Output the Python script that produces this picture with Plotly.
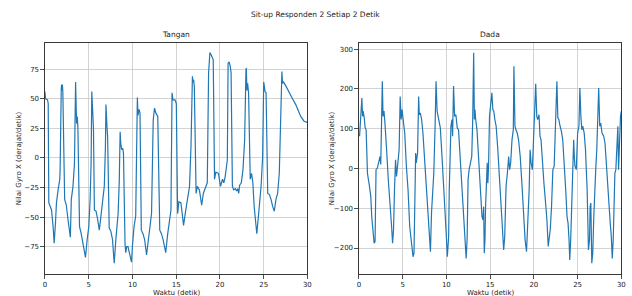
import plotly.graph_objects as go

# ---------------- data ----------------
t_tangan = [0.0, 0.08, 0.3, 0.38, 0.45, 0.57, 0.76, 0.94, 1.06, 1.21, 1.32, 1.51, 1.7, 1.74,
            1.8, 1.87, 1.91, 1.97, 2.0, 2.05, 2.26, 2.45, 2.64, 2.83, 2.91, 3.02, 3.21, 3.38,
            3.51, 3.62, 3.7, 3.77, 3.96, 4.15, 4.34, 4.53, 4.64, 4.83, 5.02, 5.17, 5.28,
            5.36, 5.47, 5.55, 5.66, 5.85, 6.03, 6.22, 6.41, 6.6, 6.79, 6.92, 6.98, 7.1, 7.17,
            7.35, 7.54, 7.73, 7.92, 8.11, 8.37, 8.5, 8.6, 8.67, 8.78, 8.9, 8.98, 9.16, 9.24,
            9.35, 9.5, 9.65, 9.8, 9.9, 10.0, 10.19, 10.38, 10.5, 10.57, 10.64, 10.76, 10.87,
            11.02, 11.21, 11.4, 11.62, 11.81, 12.0, 12.19, 12.38, 12.53, 12.68, 12.9, 13.13,
            13.32, 13.51, 13.81, 14.04, 14.26, 14.41, 14.53, 14.64, 14.87, 15.02, 15.17, 15.32,
            15.55, 15.85, 16.04, 16.3, 16.53, 16.7, 16.86, 16.94, 17.0, 17.08, 17.28, 17.43,
            17.66, 17.92, 18.11, 18.41, 18.56, 18.71, 18.86, 19.01, 19.13, 19.24, 19.39, 19.54,
            19.84, 20.07, 20.3, 20.45, 20.6, 20.7, 20.85, 20.94, 21.06, 21.17, 21.28, 21.43,
            21.58, 21.77, 21.92, 22.04, 22.15, 22.26, 22.45, 22.64, 22.83, 22.98, 23.02, 23.09,
            23.17, 23.28, 23.47, 23.62, 23.77, 23.92, 24.07, 24.22, 24.37, 24.52, 24.71, 24.88,
            25.01, 25.09, 25.16, 25.28, 25.47, 25.66, 25.85, 26.03, 26.22, 26.41, 26.6, 26.79,
            26.97, 27.09, 27.16, 27.28, 27.6, 27.92, 28.3, 28.67, 29.0, 29.24, 29.62, 30.0]
v_tangan = [56, 50, 49, 46, -38, -41, -44, -58, -72, -55, -38, -27, -18, -10,
            55, 58, 62, 57, 62, 56, -35, -40, -52, -66, -67, -35, -24, -5,
            64, 29, 35, 26, -58, -64, -72, -80, -84, -69, -58, -35, -5,
            56, 35, 25, -44, -45, -52, -61, -49, -35, -24, 10, 45, 26, 18,
            -59, -62, -69, -89, -69, -47, -20, 22, 12, 7, 8, 4, -73, -80,
            -75, -75, -80, -87, -88, -75, -58, -49, 43, 51, 36, 41, 38,
            -61, -64, -69, -82, -69, -58, -47, 32, 42, 38, 35, -61,
            -64, -69, -80, -64, -52, -44, 55, 49, 49, 46, -47, -37,
            -38, -57, -47, -35, -24, 10, 69, 64, 66, 60, -30, -24,
            -27, -40, -30, -24, -21, 72, 89, 87, 84, 83, -18, -12,
            -13, -24, -18, -21, -16, -10, -2, 80, 81, 78, 72, -24,
            -27, -26, -28, -26, -30, -23, -21, -10, 15, 74, 76, 57,
            63, 55, -18, -13, -21, -41, -54, -64, -52, -38, -24, 0,
            64, 60, 56, 55, -30, -31, -35, -41, -45, -35, -30, -13,
            43, 73, 63, 64, 60, 55, 50, 45, 40, 35, 31, 30]

t_dada = [0.08, 0.23, 0.34, 0.42, 0.49, 0.61, 0.72, 0.83, 0.98, 1.21, 1.36, 1.47, 1.59, 1.74,
          1.85, 1.96, 2.11, 2.27, 2.42, 2.5, 2.6, 2.68, 2.76, 2.87, 2.98, 3.06, 3.17, 3.36,
          3.55, 3.74, 3.85, 3.96, 4.07, 4.19, 4.3, 4.37, 4.49, 4.6, 4.72, 4.83, 4.94, 5.06,
          5.24, 5.43, 5.62, 5.81, 6.0, 6.19, 6.3, 6.41, 6.49, 6.56, 6.71, 6.83, 6.9, 7.02,
          7.17, 7.32, 7.5, 7.69, 7.88, 7.96, 8.07, 8.18, 8.3, 8.45, 8.56, 8.71, 8.82, 8.94,
          9.13, 9.31, 9.5, 9.69, 9.88, 10.0, 10.11, 10.26, 10.33, 10.41, 10.52, 10.64, 10.71,
          10.82, 10.94, 11.09, 11.24, 11.39, 11.54, 11.73, 11.92, 12.11, 12.26, 12.37, 12.48,
          12.6, 12.75, 12.9, 13.01, 13.12, 13.2, 13.27, 13.35, 13.5, 13.65, 13.8, 13.95, 14.07,
          14.18, 14.26, 14.33, 14.41, 14.48, 14.56, 14.67, 14.74, 14.82, 14.93, 15.05, 15.2,
          15.31, 15.42, 15.54, 15.69, 15.88, 16.07, 16.22, 16.37, 16.55, 16.67, 16.82, 16.97,
          17.12, 17.23, 17.35, 17.5, 17.65, 17.72, 17.84, 17.95, 18.1, 18.25, 18.44, 18.63,
          18.82, 19.0, 19.16, 19.31, 19.46, 19.57, 19.68, 19.83, 19.95, 20.06, 20.21, 20.33,
          20.44, 20.59, 20.7, 20.82, 20.97, 21.15, 21.34, 21.49, 21.64, 21.76, 21.87, 22.02,
          22.17, 22.32, 22.47, 22.63, 22.74, 22.85, 23.0, 23.15, 23.3, 23.45, 23.64, 23.79,
          23.91, 24.02, 24.1, 24.21, 24.32, 24.43, 24.55, 24.62, 24.7, 24.85, 25.0, 25.15,
          25.26, 25.38, 25.49, 25.6, 25.75, 25.9, 26.09, 26.24, 26.36, 26.43, 26.51, 26.62,
          26.73, 26.85, 26.96, 27.07, 27.19, 27.3, 27.41, 27.53, 27.64, 27.79, 27.98, 28.13,
          28.28, 28.43, 28.62, 28.73, 28.85, 28.96, 29.07, 29.15, 29.26, 29.37, 29.49, 29.6,
          29.68, 29.79, 29.9, 30.0]
v_dada = [81, 127, 177, 131, 144, 127, 102, 97, -12, -45, -70, -121, -154, -188,
          -184, -3, 1, 14, 30, 10, 173, 219, 131, 144, 114, 93, 47, -28,
          -79, -146, -188, -154, -54, 22, -20, 5, 22, 47, 181, 123, 148, 123,
          89, 5, -54, -146, -180, -222, -213, -12, 39, 14, 39, 181, 135, 140,
          123, 89, 22, -54, -129, -154, -196, -209, -112, -54, -12, 106, 219, 144,
          123, 102, 30, -37, -112, -171, -222, -171, -54, 5, 106, 123, 81,
          207, 131, 135, 102, 97, 39, -20, -87, -163, -226, -179, -28,
          -3, 14, 30, 123, 291, 123, 148, 123, 97, 39, -28, -96, -121,
          -129, -96, -213, -179, -96, -28, 14, -37, 5, 131, 156, 190,
          148, 144, 123, 106, 47, -28, -96, -163, -205, -171, -45, -12,
          30, -3, 14, 72, 97, 257, 106, 97, 89, 72, 30, -37,
          -112, -180, -209, -146, -54, 47, 14, -3, 72, 114, 213, 131,
          123, 135, 81, 72, 5, -37, -87, -129, -196, -179, -154, -96,
          -3, 5, 89, 219, 127, 123, 106, 93, 72, 22, -54, -121,
          -138, -179, -230, -179, -79, -3, 72, 30, 5, -3, 89, 106,
          202, 127, 97, 106, 89, 47, -54, -205, -179, -96, -87, -238,
          -213, -121, -45, -3, 47, 114, 202, 106, 114, 89, 81, 64,
          5, -45, -96, -138, -171, -226, -179, -129, -12, -3, 72, 106,
          -3, 97, 131, 144]

suptitle = "Sit-up Responden 2 Setiap 2 Detik"
panel_titles = ["Tangan", "Dada"]
x_label = "Waktu (detik)"
y_label = "Nilai Gyro X (derajat/detik)"
x_ticks = [0, 5, 10, 15, 20, 25, 30]
y_ticks_tangan = [-75, -50, -25, 0, 25, 50, 75]
y_ticks_dada = [-200, -100, 0, 100, 200, 300]

# ---------------- figure ----------------
W, H = 632, 296
FONT = "DejaVu Sans"
LINE = "#1f77b4"

def px_x(p):
    return p / W

def px_y(p):
    return 1 - p / H

fig = go.Figure()
fig.add_trace(go.Scatter(x=t_tangan, y=v_tangan, mode="lines",
                         line=dict(color=LINE, width=1.2), xaxis="x", yaxis="y",
                         showlegend=False, hoverinfo="skip"))
fig.add_trace(go.Scatter(x=t_dada, y=v_dada, mode="lines",
                         line=dict(color=LINE, width=1.2), xaxis="x2", yaxis="y2",
                         showlegend=False, hoverinfo="skip"))

axis_common = dict(showline=True, linecolor="#222", linewidth=0.9, mirror=True,
                   ticks="outside", ticklen=3.5, tickwidth=0.8, tickcolor="#222",
                   showgrid=True, gridcolor="#c8c8c8", gridwidth=0.8, zeroline=False,
                   tickfont=dict(family=FONT, size=7, color="#222"))

ydom = [px_y(274.3), px_y(42.7)]
fig.update_layout(
    width=W, height=H, margin=dict(l=0, r=0, t=0, b=0),
    paper_bgcolor="white", plot_bgcolor="white",
    xaxis=dict(domain=[px_x(43.3), px_x(308.3)], range=[0, 30], tickvals=x_ticks,
               anchor="y", **axis_common),
    yaxis=dict(domain=ydom, range=[-98.3, 97.3], tickvals=y_ticks_tangan,
               anchor="x", **axis_common),
    xaxis2=dict(domain=[px_x(360.3), px_x(625.3)], range=[0, 30], tickvals=x_ticks,
                anchor="y2", **axis_common),
    yaxis2=dict(domain=ydom, range=[-266, 316], tickvals=y_ticks_dada,
                anchor="x2", **axis_common),
)

ann_font = dict(family=FONT, size=7, color="#222")
annotations = [
    dict(text=suptitle, x=px_x(316), y=px_y(15), font=dict(family=FONT, size=7.5, color="#222")),
    dict(text=panel_titles[0], x=px_x(175.8), y=px_y(35), font=dict(family=FONT, size=7.5, color="#222")),
    dict(text=panel_titles[1], x=px_x(492.8), y=px_y(35), font=dict(family=FONT, size=7.5, color="#222")),
    dict(text=x_label, x=px_x(175.8), y=px_y(292.8), font=ann_font),
    dict(text=x_label, x=px_x(492.8), y=px_y(292.8), font=ann_font),
    dict(text=y_label, x=px_x(17), y=px_y(158.5), textangle=-90, font=ann_font),
    dict(text=y_label, x=px_x(333), y=px_y(158.5), textangle=-90, font=ann_font),
]
for a in annotations:
    a.update(xref="paper", yref="paper", showarrow=False, xanchor="center", yanchor="middle")
fig.update_layout(annotations=annotations)

fig.write_html(
    "out.html",
    config={"displayModeBar": False, "staticPlot": True},
    post_script="document.body.style.margin='0';document.body.style.overflow='hidden';",
)
